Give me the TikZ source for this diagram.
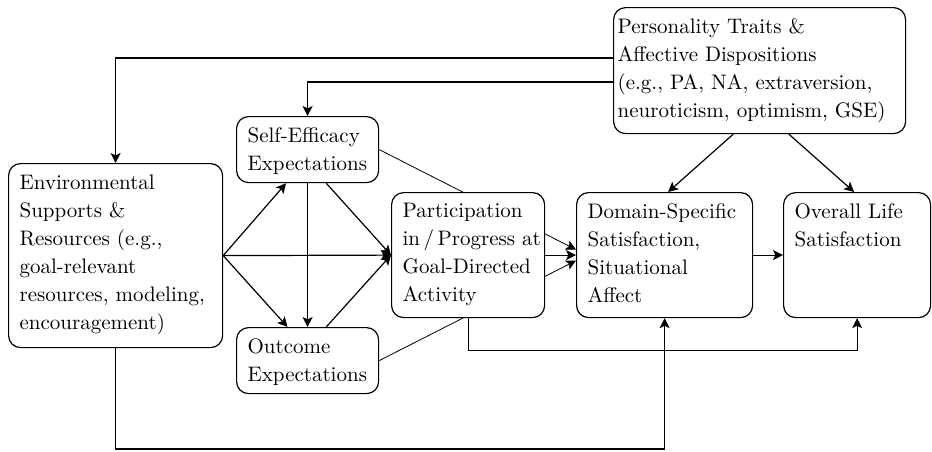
\documentclass[tikz,border=0pt]{standalone}
\usepackage{tikz}
\usetikzlibrary{arrows.meta,calc,backgrounds}

\begin{document}
\begin{tikzpicture}[x=0.5pt,y=-0.5pt,line width=0.6pt,
  box/.style={draw,rounded corners=6pt,fill=white,inner sep=0pt,anchor=north west},
  lbl/.style={anchor=north west,align=left,inner sep=5.5pt,font=\fontsize{10.5}{14}\selectfont},
  arr/.style={-{Stealth[length=5pt,width=5pt,inset=1.2pt]}}]
\useasboundingbox (0,0) rectangle (932,451);
% boxes
\node[box,minimum width=107pt,minimum height=92pt] (env) at (8,163) {};
\node[box,minimum width=71pt,minimum height=33pt] (se) at (236,116) {};
\node[box,minimum width=71pt,minimum height=33pt] (oe) at (236,327) {};
\node[box,minimum width=76.5pt,minimum height=62.5pt] (part) at (391,192) {};
\node[box,minimum width=88pt,minimum height=62.5pt] (dom) at (576,192) {};
\node[box,minimum width=73.5pt,minimum height=62.5pt] (ovr) at (783,192) {};
\node[box,minimum width=146pt,minimum height=63pt] (pers) at (613,7) {};
% texts
\node[lbl] (envt) at (env.north west) {Environmental\\Supports \&\\Resources (e.g.,\\goal-relevant\\resources, modeling,\\encouragement)};
\node[lbl] (set) at (se.north west) {Self-Efficacy\\Expectations};
\node[lbl] (oet) at (oe.north west) {Outcome\\Expectations};
\node[lbl] (partt) at (part.north west) {Participation\\in\,/\,Progress at\\Goal-Directed\\Activity};
\node[lbl] (domt) at (dom.north west) {Domain-Specific\\Satisfaction,\\Situational\\Affect};
\node[lbl] (ovrt) at (ovr.north west) {Overall Life\\Satisfaction};
\node[lbl,inner xsep=2pt] (perst) at (pers.north west) {Personality Traits \&\\Affective Dispositions\\(e.g., PA, NA, extraversion,\\neuroticism, optimism, GSE)};
% connectors
\draw[arr] (pers.west |- 0,58) -| (env.north);
\draw[arr] (pers.west |- 0,82) -| (se.north);
\draw[arr] ($(pers.south west)!0.41!(pers.south east)$) -- ($(dom.north west)!0.52!(dom.north east)$);
\draw[arr] ($(pers.south west)!0.60!(pers.south east)$) -- ($(ovr.north west)!0.48!(ovr.north east)$);
\draw[arr] (env.east) -- ($(se.south west)!0.35!(se.south east)$);
\draw[arr] (env.east) -- (part.west);
\draw[arr] (env.east) -- ($(oe.north west)!0.36!(oe.north east)$);
\draw[arr] (se.south) -- (oe.north);
\draw[arr] ($(se.south west)!0.63!(se.south east)$) -- (part.west);
\draw[arr] ($(oe.north west)!0.63!(oe.north east)$) -- (part.west);
\draw[arr] (part.east) -- (dom.west);
\draw[arr] (dom.east) -- (ovr.west);
\draw[arr] (part.south) -- ++(0,32) -| (ovr.south);
\draw[arr] (env.south) -- (env.south |- 0,449) -| (dom.south);
\begin{scope}[on background layer]
\draw[arr] (se.east) -- ([yshift=2.75pt]dom.west);
\draw[arr] (oe.east) -- ([yshift=-2.75pt]dom.west);
\end{scope}
\end{tikzpicture}
\end{document}
